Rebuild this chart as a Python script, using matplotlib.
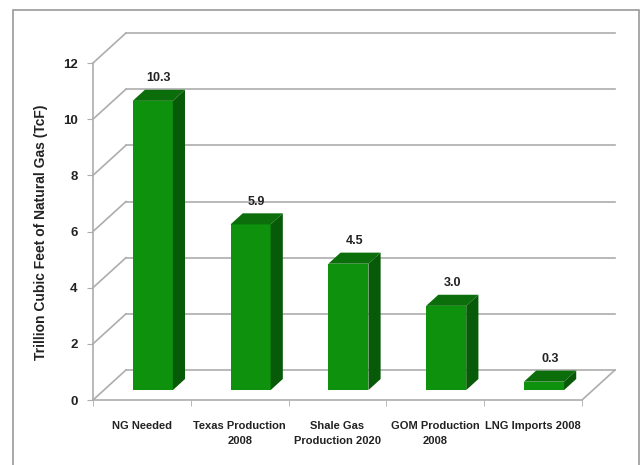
import matplotlib.pyplot as plt
from matplotlib.patches import Polygon, Rectangle

categories = ['NG Needed', 'Texas Production\n2008', 'Shale Gas\nProduction 2020',
              'GOM Production\n2008', 'LNG Imports 2008']
values = [10.3, 5.9, 4.5, 3.0, 0.3]
labels = ['10.3', '5.9', '4.5', '3.0', '0.3']
yticks = [0, 2, 4, 6, 8, 10, 12]

plt.rcParams['font.family'] = ['Liberation Sans', 'DejaVu Sans']

# oblique offsets for the fake 3d box (in data units)
ox, oy = 0.337, 1.068
hw = 0.205           # half bar width
d0, d1 = 0.33, 0.70  # bar depth range
grid_c = '#adadad'
front_c, top_c, side_c = '#0e920e', '#0b6e0b', '#075a07'

fig = plt.figure(figsize=(6.41, 4.65), dpi=100)
fig.patches.append(Rectangle((13 / 641, -0.1), 626 / 641, 1.1 - 10 / 465,
                             transform=fig.transFigure, fill=False,
                             edgecolor='#9a9a9a', linewidth=1.2))

ax = fig.add_axes([93 / 641, 65 / 465, 489 / 641, 337 / 465])
n = len(categories)
ax.set_xlim(-0.5, n - 0.5)
ax.set_ylim(0, 12)

# back wall gridlines + left wall diagonals
for t in yticks:
    ax.plot([-0.5, -0.5 + ox], [t, t + oy], color=grid_c, lw=1.2, clip_on=False, zorder=1)
    ax.plot([-0.5 + ox, n - 0.5 + ox], [t + oy, t + oy], color=grid_c, lw=1.2,
            clip_on=False, zorder=1)
# floor right edge
ax.plot([n - 0.5, n - 0.5 + ox], [0, oy], color=grid_c, lw=1.2, clip_on=False, zorder=1)

for i, v in enumerate(values):
    x0 = i - hw
    x1 = i + hw
    front = Polygon([(x0 + d0 * ox, d0 * oy), (x1 + d0 * ox, d0 * oy),
                     (x1 + d0 * ox, v + d0 * oy), (x0 + d0 * ox, v + d0 * oy)],
                    closed=True, facecolor=front_c, edgecolor='none', zorder=3, clip_on=False)
    top = Polygon([(x0 + d0 * ox, v + d0 * oy), (x1 + d0 * ox, v + d0 * oy),
                   (x1 + d1 * ox, v + d1 * oy), (x0 + d1 * ox, v + d1 * oy)],
                  closed=True, facecolor=top_c, edgecolor='none', zorder=3, clip_on=False)
    side = Polygon([(x1 + d0 * ox, d0 * oy), (x1 + d1 * ox, d1 * oy),
                    (x1 + d1 * ox, v + d1 * oy), (x1 + d0 * ox, v + d0 * oy)],
                   closed=True, facecolor=side_c, edgecolor='none', zorder=3, clip_on=False)
    for p in (front, top, side):
        ax.add_patch(p)
    ax.text(i + (d0 + d1) / 2 * ox, v + d1 * oy + 0.42, labels[i], ha='center',
            va='center', fontsize=9, fontweight='bold', color='#222222')

for s in ('top', 'right'):
    ax.spines[s].set_visible(False)
for s in ('left', 'bottom'):
    ax.spines[s].set_color(grid_c)
    ax.spines[s].set_linewidth(1.2)

ax.set_yticks(yticks)
ax.set_yticklabels([str(t) for t in yticks], fontsize=9.5, fontweight='bold')
ax.tick_params(axis='y', length=4, color=grid_c, pad=7, labelcolor='#222222')
ax.set_xticks(range(n))
ax.set_xticklabels(categories, fontsize=8, fontweight='bold', linespacing=1.6,
                   color='#222222')
ax.set_xticks([k - 0.5 for k in range(n + 1)], minor=True)
ax.tick_params(axis='x', which='major', length=0, pad=15)
ax.tick_params(axis='x', which='minor', length=4, color=grid_c)
ax.patch.set_alpha(0)

fig.text(41 / 641, 1 - 232 / 465, 'Trillion Cubic Feet of Natural Gas (TcF)', rotation=90,
         ha='center', va='center', fontsize=10, fontweight='bold', color='#222222')

fig.savefig('out.png', dpi=100)
